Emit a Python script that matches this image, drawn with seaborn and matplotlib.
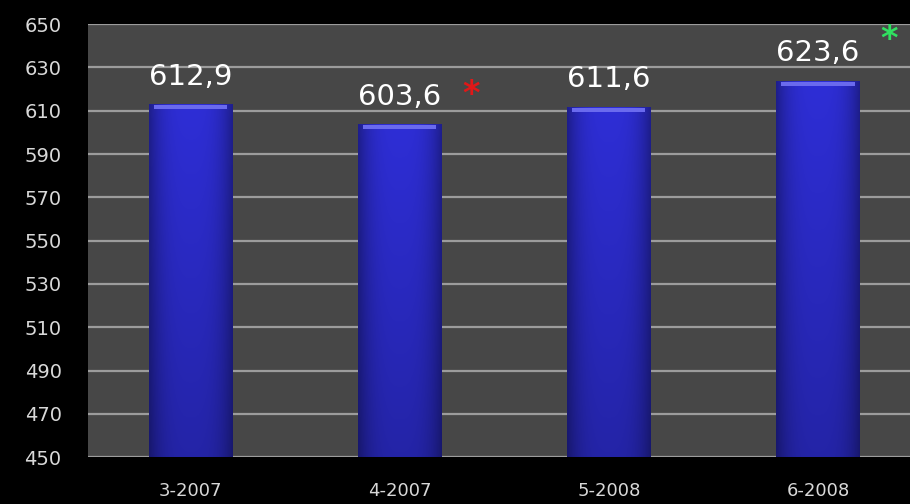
import numpy as np
import pandas as pd
import seaborn as sns
import matplotlib.pyplot as plt
from matplotlib.colors import to_rgb

periods = ["3-2007", "4-2007", "5-2008", "6-2008"]
values = [612.9, 603.6, 611.6, 623.6]
marks = ["", "*", "", "*"]
mark_colors = ["none", "#e01818", "none", "#30e060"]
yticks = list(range(450, 651, 20))

df = pd.DataFrame({"period": periods, "value": values})

sns.set_style("dark")
plt.rcParams["font.family"] = ["DejaVu Sans"]

fig = plt.figure(figsize=(9.1, 5.04), dpi=100, facecolor="black")
ax = fig.add_axes([0.0967, 0.093, 0.9033, 0.859])
ax.set_facecolor("#474747")

sns.barplot(data=df, x="period", y="value", color="#2a2ad0", width=0.4,
            saturation=1, linewidth=0, edgecolor="none", ax=ax, zorder=3)

ymin, ymax = 450, 650
ax.set_ylim(ymin, ymax)
ax.set_xlim(-0.49, 3.44)
ax.set_yticks(yticks)
ax.grid(axis="y", color="#9c9c9c", linewidth=1.6, zorder=0)
ax.grid(axis="x", visible=False)
for s in ax.spines.values():
    s.set_visible(False)
ax.tick_params(axis="y", length=0, pad=19, labelsize=14, labelcolor="#d8d8d8")
ax.tick_params(axis="x", length=0, pad=18, labelsize=13, labelcolor="#d8d8d8")
ax.set_xlabel("")
ax.set_ylabel("")

# shaded bars: darker sides and bottom, light cap on top
base = np.array(to_rgb("#2e2ed6"))
u = np.linspace(-1, 1, 120)
hfac = 1 - 0.35 * np.abs(u) ** 3
vfac = np.linspace(1.0, 0.78, 200)  # top row first
shade = (vfac[:, None, None] * hfac[None, :, None]) * base[None, None, :]
for p in ax.patches:
    x0, w = p.get_x(), p.get_width()
    top = p.get_y() + p.get_height()
    ax.imshow(shade, aspect="auto", extent=[x0, x0 + w, ymin, top],
              zorder=4, interpolation="bilinear")
    ax.fill_between([x0 + 0.025, x0 + w - 0.025], top - 2.0, top - 0.4,
                    color="#6a6aee", zorder=5, linewidth=0)
ax.set_xlim(-0.49, 3.44)
ax.set_ylim(ymin, ymax)

for i, (v, m, mc) in enumerate(zip(values, marks, mark_colors)):
    label = f"{v:.1f}".replace(".", ",")
    ax.annotate(label, (i, v), xytext=(0, 10), textcoords="offset points",
                ha="center", va="bottom", fontsize=21, color="white", zorder=6)
    if m:
        dy = 10 if i == 1 else 18
        ax.annotate(m, (i, v), xytext=(45, dy), textcoords="offset points",
                    ha="left", va="bottom", fontsize=24, color=mc,
                    fontweight="bold", zorder=6)

fig.savefig("out.png", dpi=100, facecolor="black")
